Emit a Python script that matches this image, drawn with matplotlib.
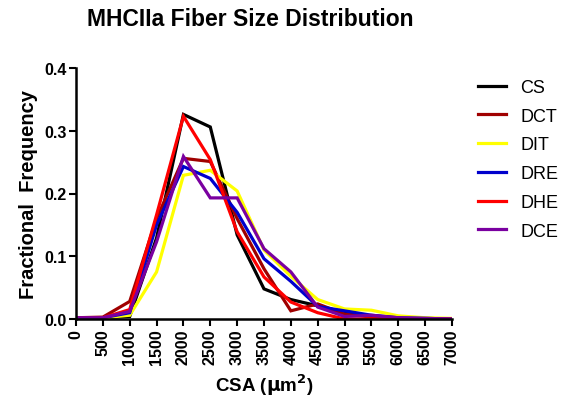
import matplotlib
matplotlib.use("Agg")
import matplotlib.pyplot as plt

plt.rcParams['font.family'] = ['Liberation Sans', 'DejaVu Sans']

# bin centres (CSA, um^2)
csa = [0, 500, 1000, 1500, 2000, 2500, 3000, 3500, 4000, 4500, 5000, 5500, 6000, 6500, 7000]

cs  = [0.002, 0.002, 0.004, 0.129, 0.326, 0.306, 0.134, 0.048, 0.031, 0.021, 0.010, 0.005, 0.002, 0.001, 0.0]
dct = [0.002, 0.003, 0.028, 0.160, 0.256, 0.251, 0.160, 0.080, 0.013, 0.024, 0.008, 0.003, 0.001, 0.0, 0.0]
dit = [0.002, 0.002, 0.006, 0.075, 0.229, 0.237, 0.204, 0.110, 0.068, 0.031, 0.016, 0.014, 0.005, 0.002, 0.001]
dre = [0.002, 0.002, 0.010, 0.150, 0.243, 0.224, 0.170, 0.096, 0.060, 0.020, 0.013, 0.006, 0.002, 0.001, 0.0]
dhe = [0.002, 0.002, 0.015, 0.166, 0.323, 0.254, 0.139, 0.067, 0.027, 0.010, 0.000, 0.000, 0.000, 0.0, 0.0]
dce = [0.002, 0.002, 0.012, 0.123, 0.259, 0.193, 0.193, 0.112, 0.075, 0.019, 0.004, 0.006, 0.002, 0.001, 0.0]

names = ['CS', 'DCT', 'DIT', 'DRE', 'DHE', 'DCE']
series = [cs, dct, dit, dre, dhe, dce]
colors = ['#000000', '#a00000', '#ffff00', '#0000cc', '#ff0000', '#7a00a0']

fig = plt.figure(figsize=(5.66, 4.06), dpi=100)
ax = fig.add_axes([76/566, 1-320/406, (452-76)/566, (320-69)/406])

for name, y, c in zip(names, series, colors):
    ax.plot(csa, y, color=c, lw=2.3, label=name, solid_joinstyle='miter')

ax.set_xlim(0, 7000)
ax.set_ylim(0, 0.4)
ax.set_xticks(range(0, 7001, 500))
ax.set_yticks([0, 0.1, 0.2, 0.3, 0.4])
ax.set_xticklabels([str(v) for v in range(0, 7001, 500)], rotation=90,
                   fontweight='bold', fontsize=11.5)
ax.set_yticklabels(['0.0', '0.1', '0.2', '0.3', '0.4'], fontweight='bold', fontsize=11.5)

for s in ['top', 'right']:
    ax.spines[s].set_visible(False)
for s in ['left', 'bottom']:
    ax.spines[s].set_linewidth(1.8)
ax.tick_params(width=1.5, length=5, direction='out', pad=2)

ax.set_xlabel('CSA ($\\mathbf{\\mu}$m$^\\mathbf{2}$)', fontweight='bold', fontsize=13.5, labelpad=5)
ax.set_ylabel('Fractional  Frequency', fontweight='bold', fontsize=14.5, labelpad=4)
fig.text(250/566, 1-20/406, 'MHCIIa Fiber Size Distribution', ha='center', va='center',
         fontweight='bold', fontsize=16.5)

ax.legend(loc='upper left', bbox_to_anchor=(478/566, 1-80/406), bbox_transform=fig.transFigure,
          frameon=False, fontsize=13, borderpad=0, borderaxespad=0, handlelength=1.55,
          labelspacing=0.65, handletextpad=0.78)

fig.savefig('out.png', dpi=100)
